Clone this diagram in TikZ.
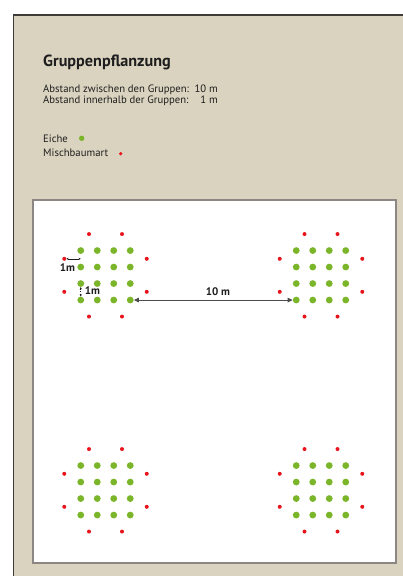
\documentclass[tikz,border=0pt]{standalone}
\usepackage{fontspec}
\setmainfont{PT Sans}
\usetikzlibrary{arrows.meta}
\definecolor{beige}{HTML}{DAD3BF}
\definecolor{eichegreen}{HTML}{7BB52A}
\definecolor{mischred}{HTML}{E8141C}
\definecolor{paneledge}{HTML}{3E3A36}
\definecolor{boxedge}{HTML}{8C8782}
\definecolor{txt}{HTML}{1E1E1E}
\tikzset{
  eiche/.style={circle,fill=eichegreen,inner sep=0pt,minimum size=6.8pt},
  eichesmall/.style={circle,fill=eichegreen,inner sep=0pt,minimum size=5.4pt},
  misch/.style={circle,fill=mischred,inner sep=0pt,minimum size=4pt},
  misch small/.style={circle,fill=mischred,inner sep=0pt,minimum size=3.6pt},
  bodytext/.style={inner sep=0pt,anchor=base west,text=txt,font=\fontsize{10.7}{12}\selectfont},
  numtext/.style={inner sep=0pt,anchor=base east,text=txt,font=\fontsize{10.7}{12}\selectfont},
  dimlabel/.style={inner sep=0pt,text=txt,font=\bfseries\fontsize{11}{12}\selectfont},
  dimarrow/.style={draw=txt!80,line width=0.8pt,{Triangle[length=5pt,width=4.5pt]}-{Triangle[length=5pt,width=4.5pt]}},
  smallarrow/.style={draw=txt,line width=0.6pt,{Stealth[length=2.2pt,width=2.2pt]}-{Stealth[length=2.2pt,width=2.2pt]}},
}
\begin{document}
\begin{tikzpicture}[x=1pt,y=-1pt]
\useasboundingbox (0,0) rectangle (403,576);
\fill[white] (0,0) rectangle (403,576);
\fill[beige] (13.3,15) rectangle (403,576);
\draw[paneledge,line width=1.4pt] (13.3,576) -- (13.3,15) -- (403,15);
% title and texts
\node[bodytext,font=\bfseries\fontsize{16.2}{19}\selectfont] (title) at (43,66.5) {Gruppenpflanzung};
\node[bodytext] (t1) at (43,92.3) {Abstand zwischen den Gruppen:};
\node[numtext] (n1) at (218,92.3) {10 m};
\node[bodytext] (t2) at (43,103.5) {Abstand innerhalb der Gruppen:};
\node[numtext] (n2) at (218,103.5) {1 m};
\node[bodytext] (l1) at (43,142.3) {Eiche};
\node[eichesmall] (le) at (81.7,138.3) {};
\node[bodytext] (l2) at (43,156) {Mischbaumart};
\node[misch small] (lm) at (120.7,153.7) {};
% plan area
\draw[fill=white,draw=boxedge,line width=2pt] (32.7,200) rectangle (396,563);
\def\s{16.5}
\foreach \g/\cx/\cy in {1/105.5/275.3, 2/321/275.3, 3/105.5/490.3, 4/321/490.3}{
  \foreach \i in {0,1,2,3}{
    \foreach \j in {0,1,2,3}{
      \node[eiche] (g\g e-\i-\j) at ({\cx+(\i-1.5)*\s},{\cy+(\j-1.5)*\s}) {};
    }
  }
  \node[misch] (g\g m-1) at ({\cx-\s},{\cy-2.5*\s}) {};
  \node[misch] (g\g m-2) at ({\cx+\s},{\cy-2.5*\s}) {};
  \node[misch] (g\g m-3) at ({\cx-2.5*\s},{\cy-\s}) {};
  \node[misch] (g\g m-4) at ({\cx+2.5*\s},{\cy-\s}) {};
  \node[misch] (g\g m-5) at ({\cx-2.5*\s},{\cy+\s}) {};
  \node[misch] (g\g m-6) at ({\cx+2.5*\s},{\cy+\s}) {};
  \node[misch] (g\g m-7) at ({\cx-\s},{\cy+2.5*\s}) {};
  \node[misch] (g\g m-8) at ({\cx+\s},{\cy+2.5*\s}) {};
}
% dimensions
\draw[dimarrow] (g1e-3-3) -- node[dimlabel,above=4pt,pos=0.53] (d10) {10 m} (g2e-0-3);
\coordinate (h1) at (g1e-0-0.center |- g1m-3.center);
\draw[smallarrow] (g1m-3.east) -- (h1);
\node[dimlabel] (d1h) at (67.5,267.5) {1m};
\draw[smallarrow,dotted,line width=0.9pt] (g1e-0-2.south) -- (g1e-0-3.north);
\node[dimlabel] (d1v) at (92.5,291) {1m};
\end{tikzpicture}
\end{document}
